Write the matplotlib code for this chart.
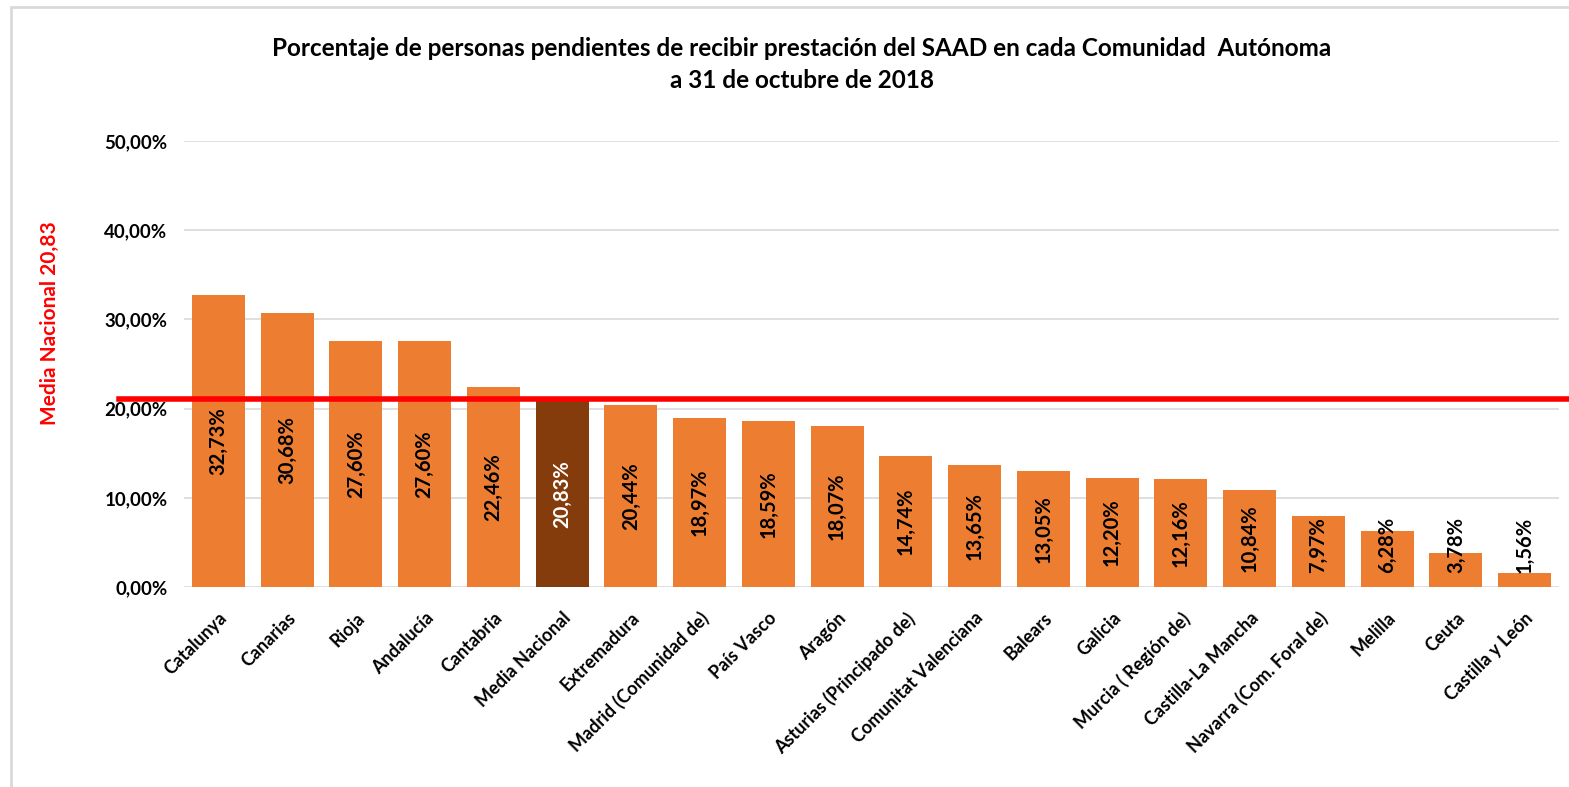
import matplotlib
matplotlib.use('Agg')
import matplotlib.pyplot as plt
from matplotlib.patches import Rectangle
from matplotlib.ticker import FuncFormatter

plt.rcParams['font.family'] = ['Lato', 'DejaVu Sans']

comunidades = ['Catalunya', 'Canarias', 'Rioja', 'Andalucía', 'Cantabria',
               'Media Nacional', 'Extremadura', 'Madrid (Comunidad de)',
               'País Vasco', 'Aragón', 'Asturias (Principado de)',
               'Comunitat Valenciana', 'Balears', 'Galicia',
               'Murcia ( Región de)', 'Castilla-La Mancha',
               'Navarra (Com. Foral de)', 'Melilla', 'Ceuta', 'Castilla y León']
porcentajes = [32.73, 30.68, 27.60, 27.60, 22.46, 20.83, 20.44, 18.97, 18.59,
               18.07, 14.74, 13.65, 13.05, 12.20, 12.16, 10.84, 7.97, 6.28,
               3.78, 1.56]
linea_media = 21.1
etiqueta_media = 'Media Nacional 20,83'
titulo = ('Porcentaje de personas pendientes de recibir prestación del SAAD en cada Comunidad  Autónoma\n'
          'a 31 de octubre de 2018')

naranja = '#ED7D31'
marron = '#843C0C'
colores = [marron if c == 'Media Nacional' else naranja for c in comunidades]

fig = plt.figure(figsize=(15.69, 7.87), dpi=100)
ax = fig.add_axes([0.1173, 0.2541, 0.8763, 0.5667])

x = list(range(len(comunidades)))
ax.bar(x, porcentajes, width=0.77, color=colores, zorder=2)

ax.set_xlim(-0.5, len(comunidades) - 0.5)
ax.set_ylim(0, 50)
ax.set_yticks([0, 10, 20, 30, 40, 50])
ax.yaxis.set_major_formatter(FuncFormatter(lambda v, p: f'{v:.2f}%'.replace('.', ',')))
ax.grid(axis='y', color='#d9d9d9', linewidth=1.2, zorder=0)
ax.set_axisbelow(True)
for s in ax.spines.values():
    s.set_visible(False)
ax.tick_params(axis='both', length=0)
ax.tick_params(axis='y', pad=12)
ax.set_xticks(x)
ax.set_xticklabels(comunidades, rotation=45, ha='right', rotation_mode='anchor',
                   fontsize=13, fontweight='bold')
ax.tick_params(axis='x', pad=16)
for t in ax.get_yticklabels():
    t.set_fontsize(13.5)
    t.set_fontweight('bold')

# línea de la media nacional
ax.axhline(linea_media, xmin=-0.047, xmax=1.01, color='#FF0000', linewidth=4,
           clip_on=False, zorder=3)

# etiquetas de valor dentro de las barras
textos = []
for xi, v, c in zip(x, porcentajes, colores):
    t = ax.text(xi, v / 2, f'{v:.2f}%'.replace('.', ','), rotation=90,
                ha='center', va='center', fontsize=14.5, fontweight='bold',
                color='white' if c == marron else 'black', zorder=4)
    textos.append(t)

fig.canvas.draw()
r = fig.canvas.get_renderer()
y0_px = ax.transData.transform((0, 0))[1]
minimo_px = y0_px + 14
for t in textos:
    bb = t.get_window_extent(r)
    if bb.y0 < minimo_px:
        xd, yd = ax.transData.inverted().transform((0, minimo_px))
        t.set_y(yd)
        t.set_va('bottom')

fig.text(0.032, 0.589, etiqueta_media, rotation=90, color='#FF0000',
         fontsize=15, fontweight='bold', ha='center', va='center')

fig.text(0.511, 0.918, titulo, ha='center', va='center', fontsize=17.5,
         fontweight='bold', linespacing=1.45)

fig.patches.append(Rectangle((0.007, -0.02), 1.2, 1.011, transform=fig.transFigure,
                             fill=False, edgecolor='#d9d9d9', linewidth=2))

fig.savefig('out.png', dpi=100)
